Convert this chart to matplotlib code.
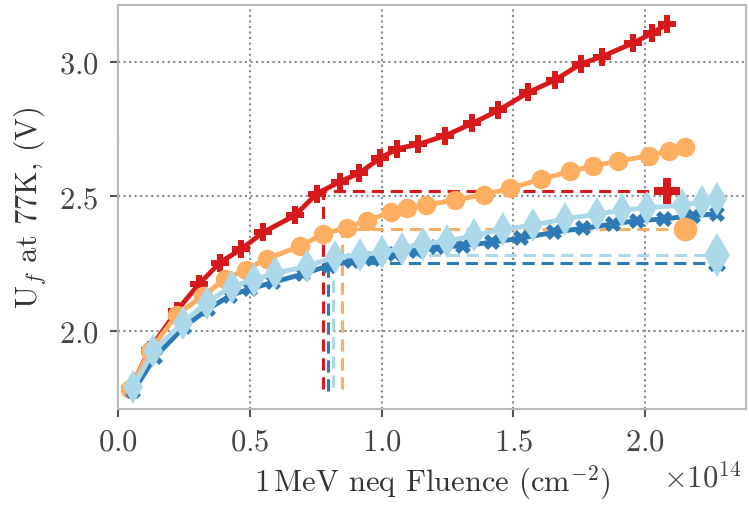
import numpy as np
import matplotlib.pyplot as plt

plt.rcParams['font.family'] = 'cmr10'
plt.rcParams['mathtext.fontset'] = 'cm'
plt.rcParams['axes.formatter.use_mathtext'] = True
plt.rcParams['font.size'] = 22

# fluence in units of 1e14 neq/cm^2, forward voltage at 77K in V
red_x = [0.046, 0.12, 0.223, 0.307, 0.387, 0.468, 0.552, 0.672, 0.754, 0.842, 0.916, 0.994,
         1.06, 1.14, 1.241, 1.345, 1.443, 1.557, 1.658, 1.756, 1.835, 1.956, 2.025, 2.085]
red_y = [1.784, 1.93, 2.075, 2.174, 2.254, 2.305, 2.367, 2.43, 2.51, 2.555, 2.587, 2.642,
         2.678, 2.694, 2.726, 2.772, 2.82, 2.887, 2.933, 2.993, 3.02, 3.071, 3.107, 3.141]

orange_x = [0.046, 0.12, 0.223, 0.324, 0.406, 0.486, 0.564, 0.691, 0.779, 0.870, 0.944, 1.035,
            1.096, 1.17, 1.279, 1.39, 1.488, 1.607, 1.715, 1.804, 1.896, 2.016, 2.092, 2.152]
orange_y = [1.785, 1.925, 2.06, 2.131, 2.193, 2.228, 2.268, 2.315, 2.361, 2.384, 2.41, 2.441,
            2.457, 2.468, 2.487, 2.507, 2.53, 2.565, 2.593, 2.614, 2.631, 2.652, 2.67, 2.683]

dblue_x = [0.058, 0.14, 0.25, 0.343, 0.425, 0.5, 0.589, 0.703, 0.80, 0.887, 0.969, 1.051,
           1.134, 1.21, 1.31, 1.42, 1.53, 1.655, 1.766, 1.88, 1.968, 2.07, 2.183, 2.272]
dblue_y = [1.775, 1.902, 2.014, 2.082, 2.131, 2.156, 2.181, 2.212, 2.243, 2.261, 2.268, 2.286,
           2.298, 2.311, 2.317, 2.33, 2.345, 2.367, 2.382, 2.398, 2.41, 2.416, 2.429, 2.435]

lblue_x = [0.058, 0.134, 0.245, 0.336, 0.431, 0.516, 0.596, 0.716, 0.824, 0.918, 1.0, 1.076,
           1.159, 1.247, 1.352, 1.462, 1.576, 1.696, 1.816, 1.911, 2.006, 2.139, 2.215, 2.272]
lblue_y = [1.79, 1.925, 2.03, 2.105, 2.165, 2.19, 2.215, 2.24, 2.275, 2.281, 2.294, 2.306,
           2.325, 2.333, 2.355, 2.378, 2.393, 2.417, 2.434, 2.449, 2.458, 2.467, 2.48, 2.49]

# threshold guides: fluence where the level is reached, final level, end of guide
red_guide = [0.777, 2.522, 2.085]
orange_guide = [0.849, 2.379, 2.152]
dblue_guide = [0.796, 2.253, 2.272]
lblue_guide = [0.817, 2.283, 2.272]

series = [
    (red_x, red_y, red_guide, '#d7191c', 'P', 13, 19),
    (orange_x, orange_y, orange_guide, '#fdae61', 'o', 14, 17),
    (dblue_x, dblue_y, dblue_guide, '#2c7bb6', 'X', 12, 13),
    (lblue_x, lblue_y, lblue_guide, '#abd9e9', 'd', 17, 22),
]

fig = plt.figure(figsize=(7.49, 5.06), dpi=100)
ax = fig.add_axes([0.1575, 0.19, 0.8385, 0.798])

for i, (x, y, g, c, m, ms, ms_big) in enumerate(series):
    x = np.array(x) * 1e14
    xv, yh, xe = g[0] * 1e14, g[1], g[2] * 1e14
    # dashed guide lines
    ax.plot([xv, xv, xe], [y[0], yh, yh], color=c, ls='--', lw=2.2, dashes=(4, 2.2), zorder=2)
    ax.plot(x, y, color=c, marker=m, ms=ms, lw=3.5, mew=0, zorder=3 + i)
    ax.plot([xe], [yh], color=c, marker=m, ms=ms_big, mew=0, zorder=8)

ax.set_xlim(0, 2.383e14)
ax.set_ylim(1.71, 3.212)
ax.set_yticks([2.0, 2.5, 3.0])
ax.set_xticks([0, 0.5e14, 1.0e14, 1.5e14, 2.0e14])
ax.ticklabel_format(axis='x', style='sci', scilimits=(0, 0), useMathText=True)

ax.grid(True, ls=':', color='#888888', lw=1.5)
for s in ax.spines.values():
    s.set_color('#b8b8b8')
    s.set_linewidth(1.5)
ax.tick_params(direction='out', length=6, width=1.5, color='#555555', labelcolor='#444444', pad=8)

# offset text placed by hand so it sits level with the axis label
ax.xaxis.get_offset_text().set_visible(False)
fig.text(0.99, 0.025, r'$\times10^{14}$', ha='right', va='bottom', color='#444444', fontsize=22)

ax.set_xlabel(r'1$\,$MeV neq Fluence (cm$^{-2}$)', color='#333333', labelpad=5)
ax.set_ylabel(r'U$_f$ at 77K, (V)', color='#333333', labelpad=8)

fig.savefig('out.png', dpi=100)
